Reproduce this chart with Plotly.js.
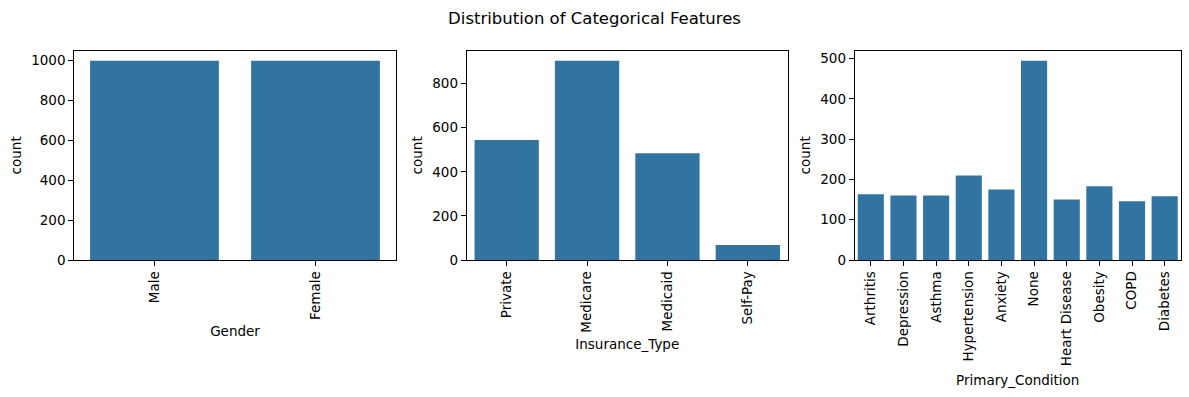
<!DOCTYPE html>
<html>
<head>
<meta charset="utf-8">
<script src="https://cdn.plot.ly/plotly-3.0.1.min.js"></script>
<style>html,body{margin:0;padding:0;background:#fff;}#chart{width:1189px;height:397px;}</style>
</head>
<body>
<div id="chart"></div>
<script>
const genderCats = ["Male", "Female"];
const genderCounts = [1000, 1000];
const insuranceCats = ["Private", "Medicare", "Medicaid", "Self-Pay"];
const insuranceCounts = [544, 904, 484, 68];
const conditionCats = ["Arthritis", "Depression", "Asthma", "Hypertension", "Anxiety", "None", "Heart Disease", "Obesity", "COPD", "Diabetes"];
const conditionCounts = [163, 160, 160, 210, 175, 495, 150, 183, 146, 158];

const barColor = "#3274a1";
const FONT = "DejaVu Sans";
const W = 1189, H = 397;

const panels = [
  {cats: genderCats, vals: genderCounts, xt: "Gender", dtick: 200, x0: 74, x1: 396, so: 7},
  {cats: insuranceCats, vals: insuranceCounts, xt: "Insurance_Type", dtick: 200, x0: 466.5, x1: 788, so: 7},
  {cats: conditionCats, vals: conditionCounts, xt: "Primary_Condition", dtick: 100, x0: 854.5, x1: 1181, so: 10}
];
const yTop = 50.7, yBot = 260;

const data = [];
const layout = {
  width: W, height: H,
  margin: {l: 0, r: 0, t: 0, b: 0},
  paper_bgcolor: "#fff", plot_bgcolor: "#fff",
  showlegend: false,
  bargap: 0.2,
  font: {family: FONT, size: 13.5, color: "#000"},
  title: {text: "Distribution of Categorical Features", font: {family: FONT, size: 16.5, color: "#000"},
          x: 0.5, xanchor: "center", xref: "paper", y: 1 - 18/H, yanchor: "middle", yref: "container"}
};

panels.forEach((p, i) => {
  const s = i === 0 ? "" : String(i + 1);
  data.push({type: "bar", x: p.cats, y: p.vals, xaxis: "x" + s, yaxis: "y" + s,
             marker: {color: barColor, line: {width: 0}}, hoverinfo: "x+y"});
  const ymax = Math.max(...p.vals) * 1.05;
  layout["xaxis" + s] = {
    domain: [p.x0 / W, p.x1 / W], anchor: "y" + s,
    type: "category", range: [-0.5, p.cats.length - 0.5],
    showline: true, linecolor: "#000", linewidth: 1, mirror: true,
    ticks: "outside", ticklen: 4.8, tickwidth: 1, tickcolor: "#000",
    tickangle: -90, showgrid: false, zeroline: false,
    tickfont: {family: FONT, size: 13.5, color: "#000"},
    title: {text: p.xt, font: {family: FONT, size: 13.5, color: "#000"}, standoff: p.so},
    automargin: false
  };
  layout["yaxis" + s] = {
    domain: [1 - yBot / H, 1 - yTop / H], anchor: "x" + s,
    range: [0, ymax], dtick: p.dtick, tick0: 0,
    showline: true, linecolor: "#000", linewidth: 1, mirror: true,
    ticks: "outside", ticklen: 4.8, tickwidth: 1, tickcolor: "#000",
    showgrid: false, zeroline: false,
    tickfont: {family: FONT, size: 13.5, color: "#000"},
    title: {text: "count", font: {family: FONT, size: 13.5, color: "#000"}, standoff: 6},
    automargin: false
  };
});

Plotly.newPlot("chart", data, layout, {staticPlot: true, displayModeBar: false});
</script>
</body>
</html>
